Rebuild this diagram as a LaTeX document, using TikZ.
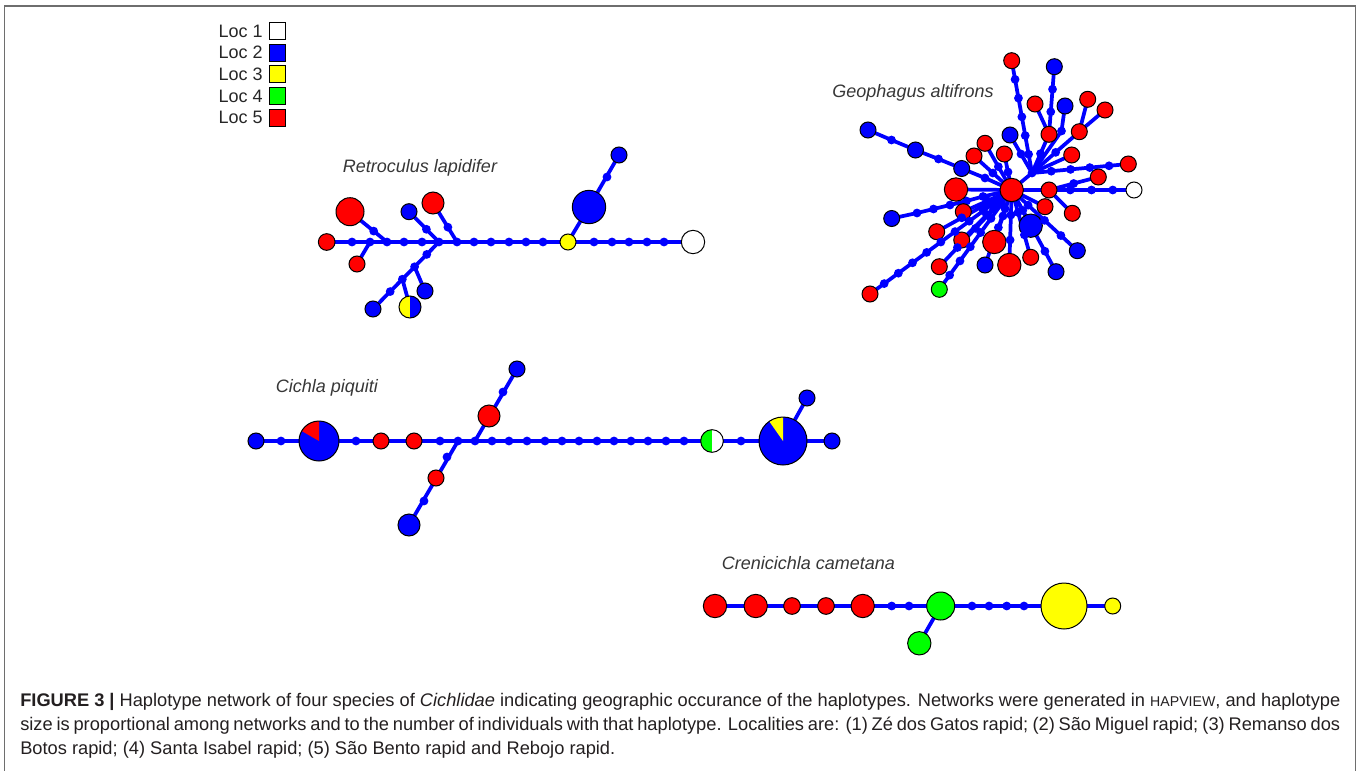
\documentclass[tikz,border=0pt]{standalone}
\usepackage{fontspec}
\setmainfont{Liberation Sans}
\usetikzlibrary{backgrounds,calc}
\definecolor{hblue}{RGB}{0,0,255}
\definecolor{hred}{RGB}{255,0,0}
\definecolor{hyel}{RGB}{255,255,0}
\definecolor{hgreen}{RGB}{0,255,0}
\definecolor{framegray}{RGB}{110,110,110}
\definecolor{labgray}{RGB}{55,55,55}
\definecolor{captext}{RGB}{35,31,32}
\newcommand{\hapv}{{\fontsize{10.6pt}{12pt}\selectfont HAPVIEW}}
\newcommand{\dchain}[4]{%
  \foreach \k in {1,...,#3} {\node[dotn] (#4\k) at ($(#1.center)!{\k/(#3+1)}!(#2.center)$) {};}
  \begin{pgfonlayer}{background}\draw[link] (#1.center) -- (#2.center);\end{pgfonlayer}}
\newcommand{\dlink}[2]{%
  \begin{pgfonlayer}{background}\draw[link] (#1.center) -- (#2.center);\end{pgfonlayer}}
\begin{document}
\begin{tikzpicture}[x=0.75pt,y=-0.75pt,
  link/.style={draw=hblue, line width=2.8pt},
  hap/.style={circle, draw=black, line width=0.75pt, inner sep=0pt, minimum size=#1},
  rd/.style={hap=#1, fill=hred}, rd/.default=12pt,
  bl/.style={hap=#1, fill=hblue}, bl/.default=12pt,
  yl/.style={hap=#1, fill=hyel}, yl/.default=12pt,
  gn/.style={hap=#1, fill=hgreen}, gn/.default=12pt,
  wh/.style={hap=#1, fill=white}, wh/.default=12pt,
  dotn/.style={circle, fill=hblue, inner sep=0pt, minimum size=6.6pt},
  halfyb/.style={hap=#1, fill=hblue, path picture={\fill[hyel] (path picture bounding box.south west) rectangle (path picture bounding box.north);}},
  halfgw/.style={hap=#1, fill=white, path picture={\fill[hgreen] (path picture bounding box.south west) rectangle (path picture bounding box.north);}},
  piered/.style={hap=#1, fill=hblue, path picture={\fill[hred] (path picture bounding box.center) -- ($(path picture bounding box.center)+(90:30pt)$) -- ($(path picture bounding box.center)+(120:30pt)$) -- ($(path picture bounding box.center)+(150:30pt)$) -- cycle;}},
  pieyel/.style={hap=#1, fill=hblue, path picture={\fill[hyel] (path picture bounding box.center) -- ($(path picture bounding box.center)+(90:40pt)$) -- ($(path picture bounding box.center)+(125:40pt)$) -- cycle;}},
  sqbox/.style={draw=black, line width=0.75pt, minimum size=12.5pt, inner sep=0pt},
  legtext/.style={anchor=east, inner sep=0pt, text=black!85, font=\fontsize{13.5pt}{16pt}\selectfont},
  spec/.style={inner sep=0pt, text=labgray, font=\fontsize{13.5pt}{16pt}\selectfont\itshape},
  captxt/.style={anchor=base west, inner sep=0pt, text=captext, font=\fontsize{13.7pt}{17pt}\selectfont}
]
\useasboundingbox (0,0) rectangle (1360,771);
\draw[framegray, line width=1.3pt] (4.5,771) -- (4.5,6) -- (1355.5,6) -- (1355.5,771);

% ---------- legend ----------
\node[sqbox, fill=white] (sq1) at (277.5,31) {};
\node[sqbox, fill=hblue] (sq2) at (277.5,52.7) {};
\node[sqbox, fill=hyel] (sq3) at (277.5,74.3) {};
\node[sqbox, fill=hgreen] (sq4) at (277.5,96) {};
\node[sqbox, fill=hred] (sq5) at (277.5,117.7) {};
\node[legtext] (lt1) at (263,31) {Loc 1};
\node[legtext] (lt2) at (263,52.7) {Loc 2};
\node[legtext] (lt3) at (263,74.3) {Loc 3};
\node[legtext] (lt4) at (263,96) {Loc 4};
\node[legtext] (lt5) at (263,117.7) {Loc 5};

% ---------- species labels ----------
\node[spec] (labR) at (420,168) {Retroculus lapidifer};
\node[spec] (labG) at (913,93) {Geophagus altifrons};
\node[spec] (labC) at (327,388) {Cichla piquiti};
\node[spec] (labK) at (808.5,563) {Crenicichla cametana};

% ---------- Retroculus lapidifer ----------
\node[rd=12.5pt] (rL) at (326.7,242) {};
\foreach[count=\i] \x in {352,370,387,404,422,439,457,474,491,509,526,543}
  {\node[dotn] (ra\i) at (\x,242) {};}
\node[yl] (rY) at (568,242) {};
\foreach[count=\i] \x in {594,612,629,647,664}
  {\node[dotn] (rb\i) at (\x,242) {};}
\node[wh=17.5pt] (rW) at (693,242) {};
\dlink{rL}{rY}\dlink{rY}{rW}
% branches
\node[rd=21pt] (rR1) at (350,211.7) {};
\node[dotn] (rc1) at ($(ra3.center)!0.36!(rR1.center)$) {};
\dlink{ra3}{rR1}
\node[rd] (rR2) at (357,264) {};
\dlink{ra2}{rR2}
\node[bl] (rB1) at (409,211.7) {};
\node[dotn] (rc2) at ($(ra6.center)!0.42!(rB1.center)$) {};
\dlink{ra6}{rB1}
\node[rd=16.5pt] (rR3) at (433,203) {};
\node[dotn] (rc3) at ($(ra7.center)!0.38!(rR3.center)$) {};
\dlink{ra7}{rR3}
\node[bl] (rB2) at (373,309) {};
\node[dotn] (rd1) at ($(ra6.center)!0.185!(rB2.center)$) {};
\node[dotn] (rd2) at ($(ra6.center)!0.37!(rB2.center)$) {};
\node[dotn] (rd3) at ($(ra6.center)!0.555!(rB2.center)$) {};
\node[dotn] (rd4) at ($(ra6.center)!0.74!(rB2.center)$) {};
\dlink{ra6}{rB2}
\node[bl] (rB3) at (425,291) {};
\dlink{rd2}{rB3}
\node[halfyb=16.5pt] (rH) at (410,307) {};
\dlink{rd3}{rH}
\node[bl=25pt] (rB4) at (589,207) {};
\node[dotn] (re1) at (607,177) {};
\node[bl] (rB5) at (619,155) {};
\dlink{rY}{rB4}\dlink{rB4}{rB5}

% ---------- Cichla piquiti ----------
\node[bl] (cB1) at (256,441) {};
\node[dotn] (ca1) at (281,441) {};
\node[piered=30pt] (cP1) at (319,441) {};
\node[dotn] (ca2) at (356,441) {};
\node[rd] (cR1) at (381,441) {};
\node[rd] (cR2) at (414,441) {};
\foreach[count=\i] \x in {440,458,475,492,509,527,545,562,579,597,614,631,648,666,684}
  {\node[dotn] (cb\i) at (\x,441) {};}
\node[halfgw=17pt] (cGW) at (712,441) {};
\node[dotn] (ca3) at (741,441) {};
\node[pieyel=36pt] (cP2) at (783,441) {};
\node[bl] (cB2) at (832,441) {};
\dlink{cB1}{cB2}
\node[rd=16.5pt] (cR3) at (489,416) {};
\node[dotn] (cc1) at (503,392) {};
\node[bl] (cB3) at (517,369) {};
\dlink{cb3}{cB3}
\node[dotn] (cd1) at (447,457) {};
\node[rd] (cR4) at (436,478) {};
\node[dotn] (cd2) at (424,501) {};
\node[bl=16.5pt] (cB4) at (409,525) {};
\dlink{cb2}{cB4}
\node[bl] (cB5) at (807,398) {};
\dlink{cP2}{cB5}

% ---------- Crenicichla cametana ----------
\node[rd=17.5pt] (kR1) at (715,606) {};
\node[rd=17.5pt] (kR2) at (755.7,606) {};
\node[rd=12.5pt] (kR3) at (792,606) {};
\node[rd=12.5pt] (kR4) at (826,606) {};
\node[rd=17.5pt] (kR5) at (862.7,606) {};
\node[dotn] (ka1) at (891.7,606) {};
\node[dotn] (ka2) at (909,606) {};
\node[gn=21pt] (kG1) at (940.7,606) {};
\foreach[count=\i] \x in {972,989,1006.7,1024}
  {\node[dotn] (kb\i) at (\x,606) {};}
\node[yl=34.5pt] (kY1) at (1064,606) {};
\node[yl] (kY2) at (1112.7,606) {};
\node[gn=17.5pt] (kG2) at (919.3,643.3) {};
\dlink{kR1}{kY2}\dlink{kG1}{kG2}

% ---------- Geophagus altifrons ----------
\node[rd=17.5pt] (gC) at (1011.7,190) {};
% upper-left blue chain
\node[dotn] (gd1) at (985,178) {};
\node[bl] (gB2) at (961.7,168.5) {};
\node[dotn] (gd2) at (938.5,159) {};
\node[bl] (gB3) at (915.5,150) {};
\node[dotn] (gd3) at (891.5,140) {};
\node[bl] (gB1) at (868,130) {};
\begin{pgfonlayer}{background}
\draw[link] (gC.center) -- (gd1.center) -- (gB2.center) -- (gd2.center) -- (gB3.center) -- (gd3.center) -- (gB1.center);
\end{pgfonlayer}
% left blue chain
\node[dotn] (gd4) at (983,196.5) {};
\node[dotn] (gd8) at (966.5,201) {};
\node[dotn] (gd5) at (950,205) {};
\node[dotn] (gd6) at (933.5,209) {};
\node[dotn] (gd7) at (917,213) {};
\node[bl] (gB4) at (891.7,218.5) {};
\begin{pgfonlayer}{background}
\draw[link] (gC.center) -- (gd4.center) -- (gd8.center) -- (gd5.center) -- (gd6.center) -- (gd7.center) -- (gB4.center);
\end{pgfonlayer}
% right side
\node[bl=17.5pt] (gB5) at (1030.7,225.7) {};
\node[rd] (gR4) at (1045,206.7) {};
\node[rd] (gR5) at (1049,190) {};
\node[wh] (gW) at (1134,190) {};
\node[rd] (gR6) at (1098.3,177) {};
\node[rd] (gR7) at (1072.3,213.3) {};
\dlink{gC}{gB5}\dlink{gC}{gR4}\dlink{gC}{gR5}
\dchain{gR5}{gW}{3}{gw}
\dchain{gR5}{gR6}{1}{gx}
\dlink{gR5}{gR7}
% upper junction
\node[dotn] (gJ) at (1032,173) {};
\dlink{gC}{gJ}
\node[rd] (gR8) at (1128.3,164) {};
\dchain{gJ}{gR8}{4}{gy}
\node[rd] (gR9) at (1071.7,155) {};
\dlink{gJ}{gR9}
\node[rd] (gR10) at (1079.3,131.7) {};
\dchain{gJ}{gR10}{1}{gz}
\node[rd] (gR11) at (1087.7,99.3) {};
\node[rd] (gR12) at (1105,110) {};
\dlink{gR10}{gR11}\dlink{gR10}{gR12}
\node[dotn] (gdB6) at (1061.5,131) {};
\node[bl] (gB6) at (1065,106) {};
\begin{pgfonlayer}{background}
\draw[link] (gJ.center) -- (gdB6.center) -- (gB6.center);
\end{pgfonlayer}
\node[rd] (gR13) at (1049,134.3) {};
\dchain{gJ}{gR13}{1}{gq}
\node[bl] (gB7) at (1054.3,66.7) {};
\dchain{gR13}{gB7}{2}{gp}
\node[rd] (gR14) at (1035,104) {};
\dlink{gR13}{gR14}
\node[rd] (gR15) at (1011.7,60.7) {};
\dchain{gJ}{gR15}{5}{go}
\node[bl] (gB8) at (1010,135) {};
\dchain{gB8}{gJ}{1}{gn}
% upper-left reds
\node[rd] (gR16) at (1004.3,154) {};
\dchain{gC}{gR16}{1}{gm}
\node[rd] (gR17) at (974,156) {};
\dchain{gC}{gR17}{1}{gl}
\node[rd] (gR18) at (985,143.3) {};
\dchain{gC}{gR18}{1}{gk}
\node[rd=17.5pt] (gRa) at (956,189.5) {};
\dlink{gC}{gRa}
% lower-left
\node[rd] (gR2) at (963.3,211.7) {};
\dchain{gC}{gR2}{1}{gj}
\node[rd] (gR3) at (936.7,231.7) {};
\dchain{gC}{gR3}{2}{gi}
\node[rd] (gR19) at (961.7,240) {};
\dchain{gC}{gR19}{1}{gh}
\node[rd] (gR20) at (939.3,266.7) {};
\dchain{gC}{gR20}{3}{gg}
\node[rd] (gR21) at (870,294) {};
\dchain{gC}{gR21}{9}{gf}
\node[gn] (gG) at (939.3,289.3) {};
\dchain{gC}{gG}{6}{ge}
\node[bl] (gB9) at (985,265) {};
\dchain{gC}{gB9}{3}{gb}
\node[rd=17.5pt] (gR22) at (994.3,242) {};
\dchain{gC}{gR22}{1}{ga}
\node[rd=17.5pt] (gR23) at (1009.3,265) {};
\dchain{gC}{gR23}{2}{gs}
\node[rd] (gR24) at (1030.7,257.3) {};
\dchain{gC}{gR24}{2}{gt}
\node[bl] (gB10) at (1077.3,250.7) {};
\dchain{gC}{gB10}{3}{gu}
\node[bl] (gB11) at (1056,271.7) {};
\dchain{gC}{gB11}{3}{gv}

% ---------- caption ----------
\node[captxt] (cap1) at (20,706) {\makebox[990pt][s]{\textbf{FIGURE 3 |} Haplotype network of four species of \textit{Cichlidae} indicating geographic occurance of the haplotypes. Networks were generated in \hapv, and haplotype}};
\node[captxt] (cap2) at (20,730) {\makebox[990pt][s]{size is proportional among networks and to the number of individuals with that haplotype. Localities are: (1) Zé dos Gatos rapid; (2) São Miguel rapid; (3) Remanso dos}};
\node[captxt] (cap3) at (20,754) {Botos rapid; (4) Santa Isabel rapid; (5) São Bento rapid and Rebojo rapid.};
\end{tikzpicture}
\end{document}
